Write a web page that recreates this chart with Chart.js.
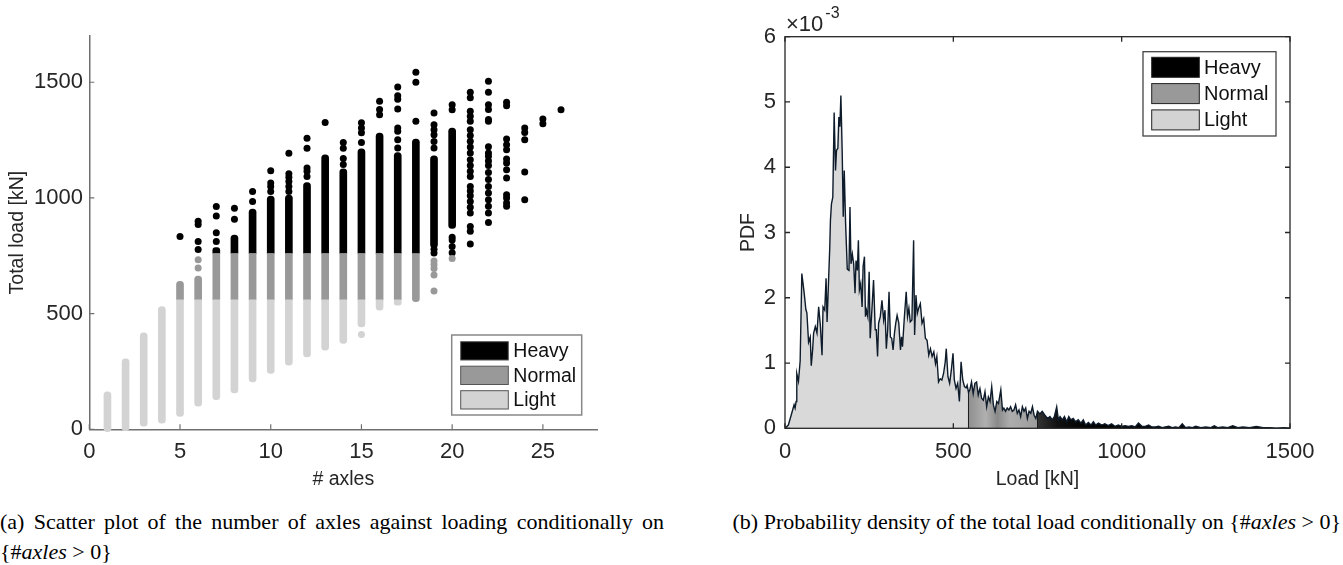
<!DOCTYPE html>
<html>
<head>
<meta charset="utf-8">
<title>Axles and total load</title>
<script src="https://cdn.jsdelivr.net/npm/chart.js"></script>
<style>
  body { margin: 0; background: #fff; }
  #page { position: relative; width: 1343px; height: 565px; overflow: hidden; }
  canvas { position: absolute; top: 0; }
  #scatter { left: 0; }
  #pdf { left: 672px; }
  .caption { position: absolute; top: 507px; font-family: "Liberation Serif", "Times New Roman", serif; font-size: 22px; line-height: 30px; color: #000; }
  #capA { left: 0; width: 664px; text-align: justify; text-align-last: left; }
  #capB { left: 672px; width: 669px; text-align: right; white-space: nowrap; }
  .math { white-space: nowrap; }
</style>
</head>
<body>
<div id="page">
  <canvas id="scatter" width="672" height="500"></canvas>
  <canvas id="pdf" width="671" height="500"></canvas>
  <div class="caption" id="capA">(a) Scatter plot of the number of axles against loading conditionally on <span class="math">{#<i>axles</i> &gt; 0}</span></div>
  <div class="caption" id="capB">(b) Probability density of the total load conditionally on <span class="math">{#<i>axles</i> &gt; 0}</span></div>
</div>
<script>
// classes
const classNames = ['Heavy', 'Normal', 'Light']

// (a) number of axles x total load [kN]
const axles = [1, 2, 3, 4, 5, 6, 7, 8, 9, 10, 11, 12, 13, 14, 15, 16, 17, 18, 19, 20, 21, 22, 23, 24, 25, 26]
// dense part of each column [low, high], null = no dense part
const lightLow   = [-10, -6, 13, 27, 56, 100, 128, 157, 205, 241, 277, 313, 342, 371, 443, 515, 537, null, null, null, null, null, null, null, null, null]
const lightHigh  = [162, 305, 417, 530, 560, 560, 560, 560, 560, 560, 560, 560, 560, 560, 560, 560, 560, null, null, null, null, null, null, null, null, null]
const normalLow  = [null, null, null, null, 560, 560, 560, 560, 560, 560, 560, 560, 560, 560, 560, 560, 560, 552, null, null, null, null, null, null, null, null]
const normalHigh = [null, null, null, null, 640, 662, 760, 760, 760, 760, 760, 760, 760, 760, 760, 760, 760, 760, null, null, null, null, null, null, null, null]
const heavyLow   = [null, null, null, null, null, null, 760, 760, 760, 760, 760, 760, 760, 760, 760, 760, 760, 760, 785, 868, null, null, null, null, null, null]
const heavyHigh  = [null, null, null, null, null, null, 786, 840, 952, 1008, 1012, 1066, 1186, 1126, 1212, 1280, 1196, 1254, 1182, 1302, null, null, null, null, null, null]
// isolated vehicles [axles, load]
const lightDots = [[15, 410]]
const normalDots = [[6, 697], [6, 733], [19, 598], [19, 667], [19, 695], [19, 712], [19, 728], [20, 738]]
const heavyDots = [
  [5, 833], [6, 777], [6, 812], [6, 885], [6, 899], [7, 812], [7, 850], [7, 922], [7, 963],
  [8, 908], [8, 956], [9, 985], [9, 1028], [10, 1028], [10, 1050], [10, 1065], [10, 1118],
  [11, 1028], [11, 1050], [11, 1071], [11, 1090], [11, 1105], [11, 1193],
  [12, 1093], [12, 1115], [12, 1129], [12, 1215], [12, 1258], [13, 1326],
  [14, 1145], [14, 1170], [14, 1215], [14, 1240], [15, 1240], [15, 1282], [15, 1302], [15, 1325],
  [16, 1360], [16, 1382], [16, 1418],
  [17, 1216], [17, 1252], [17, 1288], [17, 1302], [17, 1385], [17, 1427], [17, 1442], [17, 1480],
  [18, 1332], [18, 1500], [18, 1543],
  [19, 762], [19, 778], [19, 1216], [19, 1244], [19, 1273], [19, 1295], [19, 1316], [19, 1367],
  [20, 763], [20, 790], [20, 818], [20, 830], [20, 1381], [20, 1403],
  [21, 801], [21, 856], [21, 877], [21, 935], [21, 960], [21, 985], [21, 1010], [21, 1030], [21, 1050],
  [21, 1093], [21, 1115], [21, 1140], [21, 1165], [21, 1194], [21, 1220], [21, 1245], [21, 1270],
  [21, 1295], [21, 1332], [21, 1353], [21, 1375], [21, 1433], [21, 1457],
  [22, 894], [22, 935], [22, 964], [22, 992], [22, 1021], [22, 1050], [22, 1080], [22, 1110], [22, 1140],
  [22, 1160], [22, 1180], [22, 1194], [22, 1221], [22, 1332], [22, 1339], [22, 1382], [22, 1403], [22, 1457], [22, 1504],
  [23, 964], [23, 978], [23, 1000], [23, 1014], [23, 1086], [23, 1122], [23, 1151], [23, 1168], [23, 1208],
  [23, 1230], [23, 1255], [23, 1399], [23, 1414],
  [24, 992], [24, 1112], [24, 1252], [24, 1283], [24, 1302], [25, 1321], [25, 1341], [26, 1381]
]
const axleTicks = [0, 5, 10, 15, 20, 25]
const loadTicks = [0, 500, 1000, 1500]

// (b) PDF of the total load, values x 10^-3
const loadKN = [
  0, 10, 20, 27, 30, 33, 35, 40, 45, 50, 57, 62, 65, 70, 75, 78, 82, 85, 90, 95,
  100, 105, 110, 113, 118, 122, 125, 133, 135, 138, 142, 146, 150, 153, 157, 160, 163, 166, 170, 173,
  176, 180, 185, 190, 193, 196, 200, 204, 208, 211, 215, 218, 221, 225, 229, 232, 236, 239, 242, 246,
  250, 253, 258, 263, 268, 271, 275, 278, 283, 288, 293, 297, 301, 305, 309, 313, 317, 321, 325, 329,
  333, 338, 343, 346, 349, 354, 360, 364, 368, 372, 377, 382, 385, 389, 393, 397, 402, 407, 412, 417,
  422, 427, 432, 437, 442, 447, 451, 456, 461, 466, 471, 476, 479, 484, 489, 494, 499, 503, 508, 513,
  518, 523, 528, 533, 538, 541, 545, 549, 554, 559, 564, 569, 574, 579, 584, 589, 594, 599, 604, 609,
  614, 619, 624, 629, 634, 641, 646, 650, 655, 660, 665, 670, 675, 680, 685, 690, 695, 700, 705, 710,
  715, 720, 725, 730, 735, 740, 745, 750, 757, 764, 772, 780, 787, 794, 800, 807, 812, 817, 824, 830,
  837, 843, 849, 856, 863, 871, 879, 886, 893, 901, 909, 916, 923, 931, 941, 950, 960, 970, 980, 990,
  1000, 1010, 1020, 1030, 1040, 1050, 1060, 1070, 1080, 1090, 1100, 1110, 1120, 1130, 1140, 1150, 1160, 1170, 1180, 1190,
  1200, 1210, 1220, 1235, 1250, 1265, 1275, 1285, 1300, 1315, 1330, 1345, 1360, 1380, 1400, 1420, 1440, 1460, 1480, 1500
]
const pdfE3 = [
  0, 0.05, 0.23, 0.36, 0.31, 0.41, 0.84, 0.72, 1.03, 2.37, 2.07, 1.82, 1.77, 1.32, 1.40, 0.96, 1.20, 1.46, 1.56, 1.46,
  1.86, 1.58, 1.12, 1.86, 1.81, 2.30, 1.63, 2.78, 3.19, 3.44, 3.54, 4.84, 3.95, 4.26, 4.29, 4.77, 4.62, 5.10, 4.21, 3.24,
  3.95, 3.14, 2.44, 2.42, 3.39, 2.52, 2.67, 2.52, 2.07, 2.57, 2.42, 2.88, 2.12, 2.22, 1.86, 2.48, 2.63, 1.71, 1.81, 1.71,
  2.40, 1.38, 1.81, 2.27, 1.51, 1.51, 1.10, 1.61, 1.71, 1.96, 1.66, 1.81, 1.22, 1.51, 2.09, 1.40, 1.38, 1.20, 1.45, 1.61,
  1.73, 1.61, 1.20, 1.40, 1.25, 1.66, 2.09, 1.71, 1.84, 1.63, 1.66, 2.88, 1.43, 2.04, 1.76, 1.84, 1.91, 1.61, 1.68, 1.38,
  1.35, 1.12, 1.22, 1.10, 1.17, 0.99, 1.10, 0.71, 0.76, 0.74, 0.84, 1.02, 1.22, 0.79, 0.69, 0.89, 1.15, 0.74, 0.61, 0.69,
  0.41, 1.02, 0.74, 0.64, 0.62, 0.66, 0.55, 0.59, 0.71, 0.53, 0.69, 0.71, 0.51, 0.61, 0.46, 0.43, 0.56, 0.33, 0.48, 0.41,
  0.64, 0.36, 0.26, 0.41, 0.38, 0.59, 0.28, 0.31, 0.26, 0.31, 0.28, 0.33, 0.26, 0.28, 0.36, 0.23, 0.28, 0.18, 0.33, 0.26,
  0.31, 0.15, 0.26, 0.23, 0.33, 0.20, 0.15, 0.26, 0.22, 0.26, 0.20, 0.15, 0.18, 0.13, 0.18, 0.33, 0.13, 0.18, 0.13, 0.18,
  0.10, 0.18, 0.13, 0.15, 0.10, 0.13, 0.08, 0.13, 0.05, 0.09, 0.05, 0.10, 0.05, 0.08, 0.05, 0.07, 0.04, 0.07, 0.03, 0.05,
  0.03, 0.04, 0.03, 0.04, 0.02, 0.08, 0.03, 0.03, 0.05, 0.02, 0.02, 0.03, 0.01, 0.02, 0.03, 0.01, 0.02, 0.01, 0.07, 0.01,
  0.02, 0.01, 0.03, 0.01, 0.02, 0.01, 0.04, 0.01, 0.02, 0.01, 0.04, 0.01, 0.02, 0.01, 0.03, 0.01, 0.01, 0, 0.01, 0
]
const classEdges = [545, 750]
const kNTicks = [0, 500, 1000, 1500]
const pdfTicks = [0, 1, 2, 3, 4, 5, 6]

Chart.defaults.font.family = 'Liberation Sans'

// tick marks pointing into the plot, like matlab
const innerTicks = {
  id: 'innerTicks',
  afterDatasetsDraw(chart, args, opts) {
    const { ctx, chartArea: a, scales: { x, y } } = chart
    const len = opts.length
    ctx.save()
    ctx.strokeStyle = opts.color
    ctx.lineWidth = opts.width
    ctx.beginPath()
    x.ticks.forEach(t => {
      const px = x.getPixelForValue(t.value)
      ctx.moveTo(px, a.bottom)
      ctx.lineTo(px, a.bottom - len)
      if (opts.box) {
        ctx.moveTo(px, a.top)
        ctx.lineTo(px, a.top + len)
      }
    })
    y.ticks.forEach(t => {
      const py = y.getPixelForValue(t.value)
      ctx.moveTo(a.left, py)
      ctx.lineTo(a.left + len, py)
      if (opts.box) {
        ctx.moveTo(a.right, py)
        ctx.lineTo(a.right - len, py)
      }
    })
    ctx.stroke()
    if (opts.box) ctx.strokeRect(a.left, a.top, a.right - a.left, a.bottom - a.top)
    if (opts.exponent) {
      ctx.fillStyle = opts.textColor
      ctx.textBaseline = 'middle'
      ctx.font = '22px "Liberation Sans"'
      ctx.fillText('\u00d710', a.left + 1, a.top - 12)
      const w = ctx.measureText('\u00d710').width
      ctx.font = '16px "Liberation Sans"'
      ctx.fillText(opts.exponent, a.left + w + 3, a.top - 23)
    }
    ctx.restore()
  }
}

// framed legend inside the axes
const boxLegend = {
  id: 'boxLegend',
  afterDraw(chart, args, o) {
    const { ctx, chartArea: a } = chart
    const x0 = a.right - o.right - o.width
    const y0 = o.top != null ? a.top + o.top : a.bottom - o.bottom - o.height
    ctx.save()
    ctx.fillStyle = '#fff'
    ctx.fillRect(x0, y0, o.width, o.height)
    ctx.strokeStyle = o.frame
    ctx.lineWidth = o.frameWidth
    ctx.strokeRect(x0, y0, o.width, o.height)
    ctx.font = o.font
    ctx.textBaseline = 'middle'
    classNames.forEach((name, i) => {
      const sy = y0 + o.padTop + i * o.rowGap
      ctx.fillStyle = o.colors[i]
      ctx.fillRect(x0 + o.padLeft, sy, o.swatchW, o.swatchH)
      ctx.strokeStyle = o.swatchLine
      ctx.lineWidth = 1
      ctx.strokeRect(x0 + o.padLeft, sy, o.swatchW, o.swatchH)
      ctx.fillStyle = '#111'
      ctx.fillText(name, x0 + o.padLeft + o.swatchW + o.textGap, sy + o.swatchH / 2 + 1)
    })
    ctx.restore()
  }
}

const tickFont = { family: 'Liberation Sans', size: 22 }
const titleFont = { family: 'Liberation Sans', size: 19.5 }
const fixedTicks = list => s => { s.ticks = list.map(v => ({ value: v })) }

// ---------- (a) scatter ----------
const R = 3.5
function columnSet(low, high, below, above, color) {
  const pts = []
  axles.forEach((a, i) => {
    if (low[i] !== null) pts.push({ x: a, y: [low[i], high[i]] })
  })
  return {
    type: 'bar',
    data: pts,
    backgroundColor: color,
    grouped: false,
    barThickness: 7,
    borderSkipped: false,
    clip: false,
    borderRadius: c => {
      if (!c.raw) return 0
      const i = axles.indexOf(c.raw.x)
      const t = above && above[i] !== null ? 0 : R
      const b = below && below[i] !== null ? 0 : R
      return { topLeft: t, topRight: t, bottomLeft: b, bottomRight: b }
    }
  }
}
function dotSet(dots, color) {
  return {
    type: 'scatter',
    data: dots.map(d => ({ x: d[0], y: d[1] })),
    backgroundColor: color,
    borderWidth: 0,
    pointRadius: 3.5
  }
}

new Chart(document.getElementById('scatter'), {
  type: 'bar',
  data: {
    datasets: [
      columnSet(lightLow, lightHigh, null, normalLow, '#d3d3d3'),
      columnSet(normalLow, normalHigh, lightLow, heavyLow, '#999999'),
      columnSet(heavyLow, heavyHigh, normalLow, null, '#000000'),
      dotSet(lightDots, '#d3d3d3'),
      dotSet(normalDots, '#999999'),
      dotSet(heavyDots, '#000000')
    ]
  },
  options: {
    responsive: false,
    animation: false,
    events: [],
    layout: { padding: { left: 0, top: 36, right: 74.7, bottom: 0 } },
    scales: {
      x: {
        type: 'linear', min: 0, max: 28, offset: false,
        afterBuildTicks: fixedTicks(axleTicks),
        afterFit: s => { s.height = 70.7 },
        grid: { display: false, drawTicks: false },
        border: { color: '#707070', width: 1.5 },
        ticks: { padding: 9.2, color: '#262626', font: tickFont, maxRotation: 0, autoSkip: false, callback: v => String(v) },
        title: { display: true, text: '# axles', color: '#262626', font: titleFont, padding: { top: 0, bottom: 8.3 } }
      },
      y: {
        type: 'linear', min: 0, max: 1700,
        afterBuildTicks: fixedTicks(loadTicks),
        afterFit: s => { s.width = 89.3 },
        grid: { display: false, drawTicks: false },
        border: { color: '#707070', width: 1.5 },
        ticks: { padding: 6.4, color: '#262626', font: tickFont, autoSkip: false, callback: v => String(v) },
        title: { display: true, text: 'Total load [kN]', color: '#262626', font: titleFont, padding: { top: 6.2, bottom: 0 } }
      }
    },
    plugins: {
      legend: { display: false },
      tooltip: { enabled: false },
      innerTicks: { length: 5, color: '#707070', width: 1.2, box: false },
      boxLegend: {
        right: 15.6, bottom: 14.3, width: 130, height: 80,
        padLeft: 9, padTop: 6.7, rowGap: 24.5, swatchW: 47.6, swatchH: 18.3, textGap: 5,
        colors: ['#000000', '#999999', '#d3d3d3'],
        frame: '#888', frameWidth: 1.5, swatchLine: '#555',
        font: '19.5px "Liberation Sans"'
      }
    }
  },
  plugins: [innerTicks, boxLegend]
})

// ---------- (b) pdf ----------
const pdfPoints = loadKN.map((x, i) => ({ x, y: pdfE3[i] }))
const lightPart = pdfPoints.filter(p => p.x <= classEdges[0])
const normalPart = pdfPoints.filter(p => p.x >= classEdges[0] && p.x <= classEdges[1])
const heavyPart = pdfPoints.filter(p => p.x >= classEdges[1])

function bandFill(stops, from, to) {
  return c => {
    const chart = c.chart
    if (!chart.chartArea) return stops[0][1]
    const xs = chart.scales.x
    const g = chart.ctx.createLinearGradient(xs.getPixelForValue(from), 0, xs.getPixelForValue(to), 0)
    stops.forEach(s => g.addColorStop(s[0], s[1]))
    return g
  }
}
const area = (pts, color) => ({ data: pts, backgroundColor: color, borderWidth: 0, pointRadius: 0, fill: 'origin', order: 3 })

const edgeLines = classEdges.map(e => ({
  data: [{ x: e, y: 0 }, { x: e, y: pdfE3[loadKN.indexOf(e)] }],
  borderColor: '#1a1a1a', borderWidth: 1, pointRadius: 0, fill: false, order: 2
}))

new Chart(document.getElementById('pdf'), {
  type: 'line',
  data: {
    datasets: [
      area(lightPart, '#d9d9d9'),
      area(normalPart, bandFill([[0, '#8f8f8f'], [0.25, '#b0b0b0'], [0.42, '#8a8a8a'], [0.6, '#adadad'], [1, '#9c9c9c']], classEdges[0], classEdges[1])),
      area(heavyPart, bandFill([[0, '#333333'], [0.4, '#111111'], [1, '#000000']], classEdges[1], 900)),
      ...edgeLines,
      { data: pdfPoints, borderColor: '#0d1b2a', borderWidth: 1.4, pointRadius: 0, fill: false, order: 1 }
    ]
  },
  options: {
    responsive: false,
    animation: false,
    events: [],
    layout: { padding: { left: 0, top: 36.7, right: 53, bottom: 0 } },
    elements: { line: { tension: 0 } },
    scales: {
      x: {
        type: 'linear', min: 0, max: 1500,
        afterBuildTicks: fixedTicks(kNTicks),
        afterFit: s => { s.height = 71.7 },
        grid: { display: false, drawTicks: false },
        border: { display: false },
        ticks: { padding: 10.2, color: '#262626', font: tickFont, maxRotation: 0, autoSkip: false, callback: v => String(v) },
        title: { display: true, text: 'Load [kN]', color: '#262626', font: titleFont, padding: { top: 0, bottom: 8.3 } }
      },
      y: {
        type: 'linear', min: 0, max: 6,
        afterBuildTicks: fixedTicks(pdfTicks),
        afterFit: s => { s.width = 113 },
        grid: { display: false, drawTicks: false },
        border: { display: false },
        ticks: { padding: 9, color: '#262626', font: tickFont, autoSkip: false, callback: v => String(v) },
        title: { display: true, text: 'PDF', color: '#262626', font: titleFont, padding: { top: 65.3, bottom: 0 } }
      }
    },
    plugins: {
      legend: { display: false },
      tooltip: { enabled: false },
      innerTicks: { length: 5, color: '#262626', width: 1.3, box: true, exponent: '-3', textColor: '#262626' },
      boxLegend: {
        right: 14, top: 15, width: 133, height: 84.3,
        padLeft: 8.7, padTop: 5.6, rowGap: 26.3, swatchW: 47.6, swatchH: 20, textGap: 4.7,
        colors: ['#000000', '#999999', '#d3d3d3'],
        frame: '#444', frameWidth: 1.3, swatchLine: '#222',
        font: '20px "Liberation Sans"'
      }
    }
  },
  plugins: [innerTicks, boxLegend]
})
</script>
</body>
</html>
